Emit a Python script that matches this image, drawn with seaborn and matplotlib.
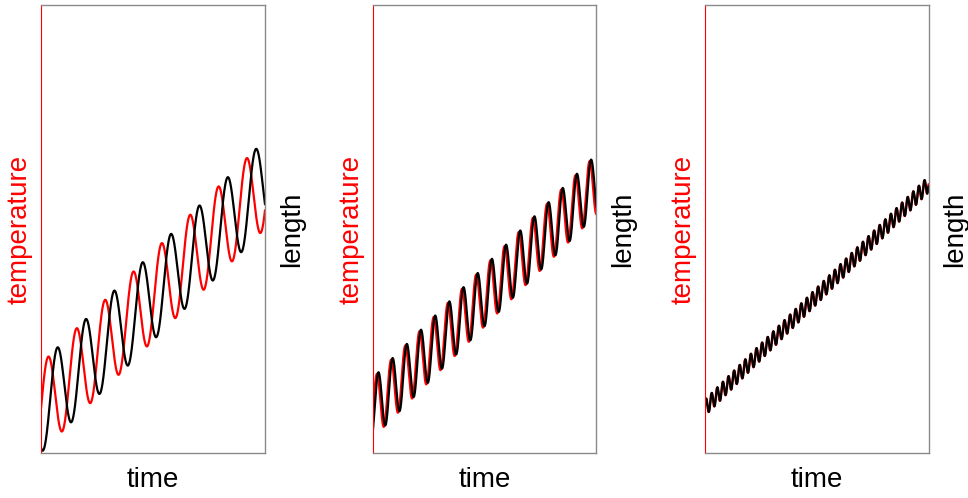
import numpy as np
import pandas as pd
import matplotlib
matplotlib.use("Agg")
import matplotlib.pyplot as plt
import seaborn as sns

# === Valori (assi normalizzati 0..1) ===
cycles = [7.9, 15.8, 40.0]          # oscillazioni per pannello
amplitude = [0.099, 0.067, 0.018]   # ampiezza dell'oscillazione
red_phase = [0.0, -20.0, 0.0]       # fase iniziale temperatura (gradi)
lag_deg = [117.0, 38.0, 15.0]       # ritardo della lunghezza (gradi)
base = 0.10                         # valore medio a time = 0
rise = 0.50                         # crescita lineare sull'intervallo
series_names = ["temperature", "length"]
series_colors = {"temperature": "red", "length": "black"}

sns.set_style("white")
plt.rcParams["font.family"] = ["Liberation Sans", "DejaVu Sans"]

fig = plt.figure(figsize=(9.68, 4.98), dpi=100)
lefts = [41, 372.5, 704.5]

t = np.linspace(0, 1, 3000)
for i in range(3):
    ax = fig.add_axes([lefts[i] / 968, 45 / 498, 224 / 968, 448 / 498])
    ph = np.deg2rad(red_phase[i])
    lag = np.deg2rad(lag_deg[i])
    temp = base + rise * t + amplitude[i] * np.sin(2 * np.pi * cycles[i] * t + ph)
    leng = base + rise * t + amplitude[i] * np.sin(2 * np.pi * cycles[i] * t + ph - lag)
    df = pd.DataFrame({
        "time": np.concatenate([t, t]),
        "value": np.concatenate([temp, leng]),
        "series": [series_names[0]] * len(t) + [series_names[1]] * len(t),
    })
    sns.lineplot(data=df, x="time", y="value", hue="series", hue_order=series_names,
                 palette=series_colors, estimator=None, sort=False, legend=False,
                 linewidth=1.6, ax=ax)
    ax.set_xlim(0, 1)
    ax.set_ylim(0, 1)
    ax.set_xticks([])
    ax.set_yticks([])
    ax.set_xlabel("time", fontsize=20, color="black", labelpad=10)
    ax.set_ylabel("temperature", fontsize=20, color="red", labelpad=6)
    for side in ["top", "right", "bottom"]:
        ax.spines[side].set_color("#8a8a8a")
        ax.spines[side].set_linewidth(1.0)
    ax.spines["left"].set_color("red")
    ax.spines["left"].set_linewidth(0.8)

    ax2 = ax.twinx()
    ax2.set_yticks([])
    ax2.set_ylabel("length", fontsize=20, color="black", labelpad=10)
    for s in ax2.spines.values():
        s.set_visible(False)

fig.savefig("out.png", dpi=100)
